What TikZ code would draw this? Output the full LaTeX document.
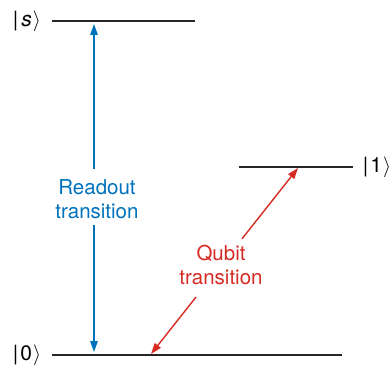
\documentclass[tikz,border=0pt]{standalone}
\usepackage{fontspec}
\setmainfont{TeX Gyre Heros}
\usetikzlibrary{arrows.meta,calc}
\definecolor{rblue}{RGB}{0,114,188}
\definecolor{rred}{RGB}{214,43,35}
\begin{document}
\begin{tikzpicture}[x=1pt,y=-1pt,
  level/.style={line width=1.2pt, draw=black!85},
  ket/.style={font=\fontsize{21}{24}\selectfont, inner sep=0pt},
  lbl/.style={font=\fontsize{20.5}{23.5}\selectfont, align=center, inner sep=0pt},
  tiphead/.style={-{Triangle[length=11pt,width=7.5pt]}},
  arr/.style={line width=1.4pt}]
\useasboundingbox (0,0) rectangle (390,369);
% energy levels
\coordinate (sL) at (52,21);  \coordinate (sR) at (195,21);
\coordinate (oL) at (239,167); \coordinate (oR) at (353,167);
\coordinate (zL) at (52,355); \coordinate (zR) at (342,355);
\draw[level] (sL) -- (sR);
\draw[level] (oL) -- (oR);
\draw[level] (zL) -- (zR);
% ket labels
\node[ket] (kets) at (27,21) {|\kern3pt\textit{s}\kern1pt$\rangle$};
\node[ket] (ket1) at (377,167) {|\kern2pt1\kern1pt$\rangle$};
\node[ket] (ket0) at (27,355) {|\kern2pt0\kern1pt$\rangle$};
% readout transition
\coordinate (b0) at (94,352);
\coordinate (b1) at (94,24);
\coordinate (bA) at (94,169);
\coordinate (bB) at (94,225);
\node[lbl, text=rblue] (readout) at (97,199) {Readout\\transition};
\draw[arr, rblue, tiphead] (bA) -- (b1);
\draw[arr, rblue, tiphead] (bB) -- (b0);
% qubit transition
\coordinate (q0) at (151,354);
\coordinate (q1) at (298,168);
\coordinate (qA) at ($(q0)!0.619!(q1)$);
\coordinate (qB) at ($(q0)!0.306!(q1)$);
\node[lbl, text=rred] (qubit) at (221,265) {Qubit\\transition};
\draw[arr, rred, tiphead] (qA) -- (q1);
\draw[arr, rred, tiphead] (qB) -- (q0);
\end{tikzpicture}
\end{document}
